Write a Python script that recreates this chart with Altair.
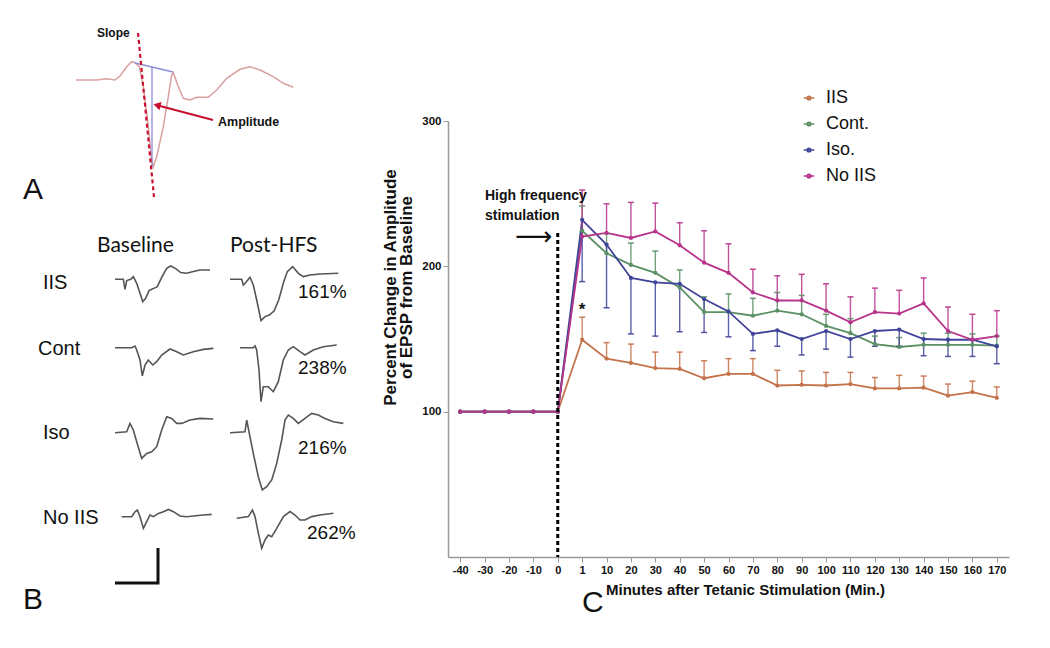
import altair as alt
import pandas as pd

# ---------------- Panel C data ----------------
times = ["-40", "-30", "-20", "-10", "0", "1", "10", "20", "30", "40", "50", "60",
         "70", "80", "90", "100", "110", "120", "130", "140", "150", "160", "170"]
groups = ["IIS", "Cont.", "Iso.", "No IIS"]
colors = ["#c4724a", "#5a9064", "#40439a", "#b8348a"]

baseline = [100, 100, 100, 100, 100]
iis_mean = baseline + [149.5, 136.5, 133.5, 130, 129.5, 123, 126, 126, 118, 118.5, 118, 119, 116, 116, 116.5, 111, 113.5, 109.5]
iis_tip = [165, 147.5, 146.5, 141, 141, 135, 136.5, 136.5, 128.5, 128, 127, 127, 123.5, 125, 124.5, 119, 121, 117]
cont_mean = baseline + [224.5, 209, 201, 195.5, 185.5, 168.5, 168.5, 166, 169.5, 167, 159, 154, 146.5, 144.5, 146, 146, 146, 145.5]
cont_tip = [241.5, 222.5, 216, 210.5, 197.5, 179, 181, 178, 182, 180, 167, 164, 152, 151, 154, 154, 153.5, 152]
iso_mean = baseline + [232, 215, 192, 189, 188, 177.5, 169, 153.5, 156, 150, 155.5, 150, 155.5, 156.5, 150, 149.5, 149.5, 145]
iso_tip = [189.5, 171.5, 153.5, 152, 155, 154.5, 151.5, 142, 145, 139, 143, 137.5, 145, 145, 138.5, 138, 138, 133]
noiis_mean = baseline + [220.5, 223, 219.5, 224, 214.5, 202.5, 195.5, 182, 176.5, 176.5, 169.5, 161.5, 168.5, 167.5, 174.5, 155.5, 149.5, 152]
noiis_tip = [252.5, 243, 244, 243.5, 230, 224.5, 215.5, 198, 193.5, 194.5, 188, 179, 185, 183.5, 192, 172, 167, 169.5]

hfs_line_top = [223]
star_value = [171]

# ---------------- Panel A / B traces (sample time, relative voltage) ----------------
a_t = [0, 20.7, 30.7, 39, 44, 50.7, 55.7, 59, 63.3, 67.3, 72.3, 75.7, 77.3, 80.7, 87.3, 92.3, 95.7, 97.3,
       102.3, 107.3, 114, 120.7, 132.3, 140.7, 150.7, 164, 174, 184, 197.3, 207.3, 217.3]
a_v = [0, 0, 1.3, 0, 4, 13.3, 18.3, 17.3, 13.3, -6.7, -46.7, -80, -86.7, -76.7, -46.7, -16.7, 5, 7.3,
       -6.7, -18.3, -20, -17.3, -17.3, -10, 1.7, 10.7, 13.3, 10, 3.3, -3.3, -7.3]
slope_t = [62, 78]
slope_v = [47, -117]
amp_h_t = [59, 97]
amp_h_v = [17, 8]
amp_v_t = [76, 76]
amp_v_v = [13, -87]
amp_arrow_t = [137, 84]
amp_arrow_v = [-40, -26]

traces = {
    ("IIS", "base"): ([0, 8.3, 10, 11.7, 15.7, 18.3, 21.7, 25, 27.7, 30.7, 34, 38.3, 42.3, 46.7, 51.7, 55.7, 60.7, 65.7, 71.7, 78.3, 85, 95],
                      [0, 0, -10, -1.3, 0, 2.7, -4, -14, -22.3, -19, -11.3, -9.3, -7.3, 2, 11, 13.3, 10.7, 6.7, 6, 7.7, 9.3, 9.3]),
    ("IIS", "post"): ([0, 11.7, 13.3, 16, 20, 23.3, 26.7, 31, 35, 39.3, 44, 48.7, 53.3, 57.3, 62.7, 68.3, 73.3, 80, 90, 108.3],
                      [0, 0, -5.7, -3, 2, -5.7, -20.7, -41.3, -37.3, -35.7, -31.7, -20.7, -4, 7.7, 12.7, 6, 2.7, 4.3, 5.3, 6]),
    ("Cont", "base"): ([0, 16.7, 20, 21.7, 25, 27.3, 30, 33.3, 37.7, 41.7, 46.7, 55, 61.7, 68.3, 78.3, 88.3, 98.3],
                       [0, 0, 1.7, -2.3, -12.3, -28.3, -17.3, -12.3, -17.3, -14, -7.3, -1.3, -4, -7.3, -4, -1.7, -0.7]),
    ("Cont", "post"): ([0, 13.3, 15, 16.7, 19, 21, 23.3, 28.3, 33.3, 38.3, 43.3, 48.3, 53.3, 60, 65, 73.3, 83.3, 96.7],
                       [0, 0, 1.7, -2.3, -22.3, -54, -39, -39, -44, -34, -12.3, -2.3, 1, -4, -7.3, -2.3, 1, 2.7]),
    ("Iso", "base"): ([0, 11.7, 15, 18.3, 21.7, 26.7, 31.7, 36.7, 41.7, 46.7, 51.7, 56.7, 61.7, 66.7, 75, 85, 98.3],
                      [0, 1, 9.3, 2.7, -9, -25.7, -20.7, -19, -14, 2.7, 16, 14.3, 9.3, 9.3, 12.7, 14.3, 13.7]),
    ("Iso", "post"): ([0, 15, 16.7, 19.3, 23.3, 28.3, 32.3, 36.7, 41.7, 46.7, 51.7, 55, 58.3, 63.3, 68.3, 75, 81.7, 88.3, 95, 103.3, 113.3],
                      [0, 1, 12.7, -0.7, -20.7, -44, -57.3, -54, -47.3, -30.7, -7.3, 12.7, 17.7, 14.3, 9.3, 14.3, 19.3, 17.7, 14.3, 11, 9.3]),
    ("No IIS", "base"): ([0, 10, 13.3, 15.7, 18.3, 21.7, 25, 28.3, 31.7, 36.7, 41.7, 46.7, 51.7, 58.3, 65, 71.7, 81.7, 90],
                         [0, 0, 5, 6.7, 0, -11.7, -5, 1.7, 0, 3.3, 5, 7.3, 5, 0.7, 0, 0.7, 1.7, 2.3]),
    ("No IIS", "post"): ([0, 11.7, 15.7, 18.3, 21.7, 25, 28.3, 31.7, 35, 40, 46.7, 53.3, 58.3, 63.3, 68.3, 75, 83.3, 96.7],
                         [0, 1.7, 8.3, 1.7, -15, -30, -21.7, -16.7, -18.3, -10, 1.7, 6.7, 3.3, -1.7, -1.7, 1.7, 3.3, 5]),
}
scale_bar_t = [0, 43, 43]
scale_bar_v = [0, 0, 35]
row_names = ["IIS", "Cont", "Iso", "No IIS"]
percents = ["161%", "238%", "216%", "262%"]

# ---------------- layout (page pixels -> chart pixels, origin at 8,8) ----------------
O = 8
FONT = "Liberation Sans"


def px(v):
    return v - O


# ---------- Panel C ----------
rows = []
for g, m, tip in [("IIS", iis_mean, iis_tip), ("Cont.", cont_mean, cont_tip),
                  ("Iso.", iso_mean, iso_tip), ("No IIS", noiis_mean, noiis_tip)]:
    for i, t in enumerate(times):
        rows.append({"group": g, "time": t, "value": m[i],
                     "tip": tip[i - 5] if i >= 5 else None, "gi": groups.index(g)})
df = pd.DataFrame(rows)
df_err = df.dropna(subset=["tip"])

xscale = alt.Scale(type="point", domain=times, range=[px(448), px(1009)], padding=0.5)
yscale = alt.Scale(domain=[0, 300], range=[px(557), px(121)], nice=False, zero=False)
cscale = alt.Scale(domain=groups, range=colors)


def X(axis=None):
    if axis is None:
        return alt.X("time:N", sort=times, scale=xscale, axis=None)
    return alt.X("time:N", sort=times, scale=xscale, axis=axis)


x_axis = alt.Axis(title="Minutes after Tetanic Stimulation (Min.)", labelAngle=0,
                  labelFont=FONT, labelFontWeight="bold", labelFontSize=11, labelColor="#111",
                  titleFont=FONT, titleFontWeight="bold", titleFontSize=15, titleColor="#111",
                  titleX=px(745), titleY=32, titleBaseline="middle",
                  tickSize=5, tickColor="#9a9a9a", domainColor="#9a9a9a",
                  domainWidth=1.5, labelPadding=2, grid=False)
y_axis = alt.Axis(title=["Percent Change in Amplitude", "of EPSP from Baseline"], values=[100, 200, 300],
                  offset=-px(448), labelFont=FONT, labelFontWeight="bold", labelFontSize=11.5, labelColor="#111",
                  titleFont=FONT, titleFontWeight="bold", titleFontSize=17, titleColor="#111",
                  titleLineHeight=16.5, titleY=px(287),
                  titlePadding=6, tickSize=5, tickColor="#9a9a9a", domainColor="#9a9a9a",
                  domainWidth=1.5, labelPadding=2, grid=False)

legend = alt.Legend(orient="none", legendX=px(800), legendY=px(89), title=None,
                    labelFont=FONT, labelFontSize=18, labelColor="#111",
                    symbolType="M-1,0L1,0M-0.35,0A0.35,0.35,0,1,1,0.35,0A0.35,0.35,0,1,1,-0.35,0",
                    symbolSize=110, symbolStrokeWidth=1.5, rowPadding=8, labelOffset=8)

lines = alt.Chart(df).mark_line(strokeWidth=1.8).encode(
    x=X(x_axis),
    y=alt.Y("value:Q", scale=yscale, axis=y_axis),
    color=alt.Color("group:N", scale=cscale, legend=legend),
    order="gi:Q",
)
err = alt.Chart(df_err).mark_rule(strokeWidth=1.4, opacity=0.85).encode(
    x=X(), y=alt.Y("value:Q", scale=yscale, axis=None), y2="tip:Q",
    color=alt.Color("group:N", scale=cscale, legend=None),
)
caps = alt.Chart(df_err).mark_tick(size=6, thickness=1.5, opacity=0.9).encode(
    x=X(), y=alt.Y("tip:Q", scale=yscale, axis=None),
    color=alt.Color("group:N", scale=cscale, legend=None),
)
pts = alt.Chart(df).mark_circle(size=18, opacity=1).encode(
    x=X(), y=alt.Y("value:Q", scale=yscale, axis=None),
    color=alt.Color("group:N", scale=cscale, legend=None),
)
vline = alt.Chart(pd.DataFrame({"time": ["0"], "top": hfs_line_top, "bot": [0]})).mark_rule(
    color="black", strokeWidth=3, strokeDash=[4, 3]).encode(
    x=X(), y=alt.Y("top:Q", scale=yscale, axis=None), y2="bot:Q")
star = alt.Chart(pd.DataFrame({"time": ["1"], "v": star_value, "s": ["*"]})).mark_text(
    font=FONT, fontSize=17, fontWeight="bold", color="#111", baseline="middle", dy=2).encode(
    x=X(), y=alt.Y("v:Q", scale=yscale, axis=None), text="s:N")


def label(text, x, y, size, weight="normal", align="left", font=FONT, color="#111", baseline="middle"):
    return alt.Chart(pd.DataFrame({"t": [text]})).mark_text(
        font=font, fontSize=size, fontWeight=weight, align=align, baseline=baseline, color=color).encode(
        x=alt.value(px(x)), y=alt.value(px(y)), text="t:N")


c_texts = [
    label("High frequency", 485, 196, 14, "bold"),
    label("stimulation", 485, 216, 14, "bold"),
    label("⟶", 515, 237, 26, font="DejaVu Sans"),
    label("C", 582, 603, 30),
]


# ---------- Panels A and B ----------
def trace_layer(t, v, x0, y0, color, width, tdom, vdom, dash=None):
    d = pd.DataFrame({"t": t, "v": v, "i": list(range(len(t)))})
    xs = alt.Scale(domain=tdom, range=[px(x0) + tdom[0], px(x0) + tdom[1]], nice=False, zero=False)
    ys = alt.Scale(domain=vdom, range=[px(y0) - vdom[0], px(y0) - vdom[1]], nice=False, zero=False)
    kw = dict(color=color, strokeWidth=width)
    if dash:
        kw["strokeDash"] = dash
    return alt.Chart(d).mark_line(**kw).encode(
        x=alt.X("t:Q", scale=xs, axis=None), y=alt.Y("v:Q", scale=ys, axis=None), order="i:Q")


A_X0, A_Y0 = 76, 80
ADOM_T, ADOM_V = [0, 230], [-130, 60]
panel_a = [
    trace_layer(a_t, a_v, A_X0, A_Y0, "#d9a0a0", 1.5, ADOM_T, ADOM_V),
    trace_layer(amp_h_t, amp_h_v, A_X0, A_Y0, "#8c8cd8", 1.3, ADOM_T, ADOM_V),
    trace_layer(amp_v_t, amp_v_v, A_X0, A_Y0, "#8c8cd8", 1.3, ADOM_T, ADOM_V),
    trace_layer(slope_t, slope_v, A_X0, A_Y0, "#c8102e", 2.2, ADOM_T, ADOM_V, dash=[4, 3]),
    trace_layer(amp_arrow_t, amp_arrow_v, A_X0, A_Y0, "#c8102e", 2, ADOM_T, ADOM_V),
]
arrow_head = alt.Chart(pd.DataFrame({"t": [amp_arrow_t[1] - 3], "v": [amp_arrow_v[1] + 0.8]})).mark_point(
    shape="triangle-left", size=70, filled=True, color="#c8102e", opacity=1, angle=15).encode(
    x=alt.X("t:Q", scale=alt.Scale(domain=ADOM_T, range=[px(A_X0), px(A_X0) + 230], nice=False, zero=False), axis=None),
    y=alt.Y("v:Q", scale=alt.Scale(domain=ADOM_V, range=[px(A_Y0) + 130, px(A_Y0) - 60], nice=False, zero=False), axis=None))
panel_a.append(arrow_head)
a_texts = [
    label("Slope", 97, 33, 12, "bold"),
    label("Amplitude", 218, 122, 12.5, "bold"),
    label("A", 23, 190, 30),
]

BDOM_T, BDOM_V = [0, 120], [-70, 30]
post_adj = {"IIS": (230, 279.3), "Cont": (240, 347.7), "Iso": (230, 432.7), "No IIS": (236.7, 518.3)}
base_adj = {"IIS": (115, 279.3), "Cont": (115, 347.7), "Iso": (115, 432.7), "No IIS": (121.7, 516.7)}
panel_b = []
for (name, kind), (t, v) in traces.items():
    x0, y0 = (base_adj if kind == "base" else post_adj)[name]
    panel_b.append(trace_layer(t, v, x0, y0, "#555555", 1.6, BDOM_T, BDOM_V))
panel_b.append(trace_layer(scale_bar_t, scale_bar_v, 115, 583, "#111111", 3, BDOM_T, BDOM_V))

b_texts = [label("Baseline", 97, 246, 21, font="Lato"), label("Post-HFS", 230, 246, 21, font="Lato")]
label_pos = [(43, 283), (38, 349), (43, 433), (43, 518)]
pct_pos = [(298, 292), (298, 368), (298, 448), (307, 533)]
for nm, (x, y) in zip(row_names, label_pos):
    b_texts.append(label(nm, x, y, 20))
for p, (x, y) in zip(percents, pct_pos):
    b_texts.append(label(p, x, y, 19))
b_texts.append(label("B", 23, 600, 30))

chart = alt.layer(
    *panel_a, *a_texts, *panel_b, *b_texts,
    lines, err, caps, pts, vline, star, *c_texts,
).resolve_scale(x="independent", y="independent", color="independent").properties(
    width=1034, height=549,
    autosize=alt.AutoSizeParams(type="none"),
    padding={"left": 0, "top": 0, "right": 0, "bottom": 80},
    background="white",
).configure_view(stroke=None)

chart.save("out.html", embed_options={"renderer": "svg", "actions": False})
